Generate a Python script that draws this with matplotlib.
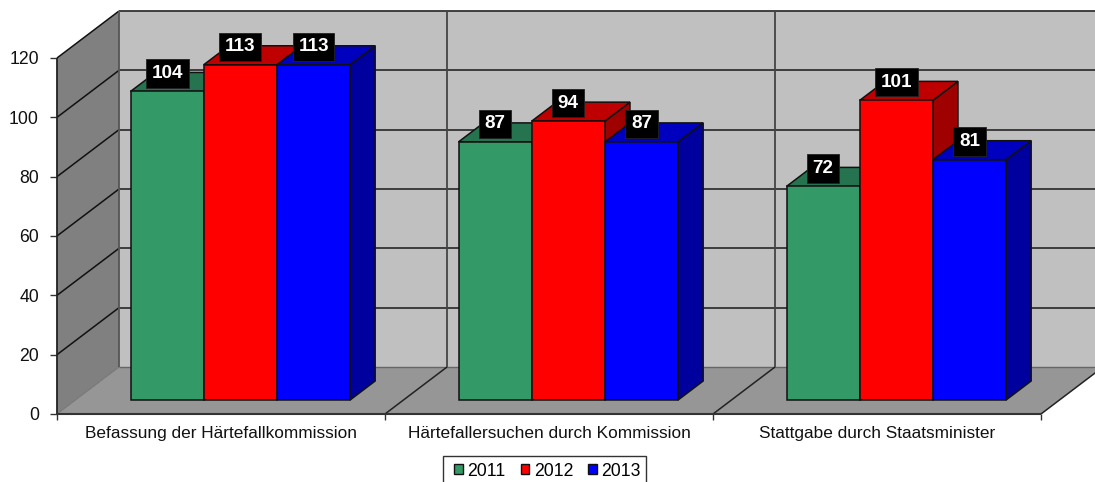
import matplotlib
matplotlib.use("Agg")
import matplotlib.pyplot as plt
from matplotlib.patches import Polygon, Rectangle
from matplotlib.lines import Line2D

plt.rcParams['font.family'] = ['Liberation Sans', 'DejaVu Sans']

categories = ["Befassung der Härtefallkommission", "Härtefallersuchen durch Kommission", "Stattgabe durch Staatsminister"]
years = ["2011", "2012", "2013"]
v2011 = [104, 87, 72]
v2012 = [113, 94, 101]
v2013 = [113, 87, 81]
series = [v2011, v2012, v2013]
front = ["#339966", "#FF0000", "#0000FF"]
top = ["#267350", "#BF0000", "#0000BF"]
side = ["#1F5F42", "#9F0000", "#00009F"]
yticks = [0, 20, 40, 60, 80, 100, 120]

W, H = 1095, 482
fig = plt.figure(figsize=(W / 100, H / 100), dpi=100, facecolor="white")
ax = fig.add_axes([57 / W, 1 - 414 / H, (1041 - 57) / W, (414 - 58) / H])
ax.set_xlim(0, 3)
ax.set_ylim(0, 120)
ax.patch.set_visible(False)
for s in ax.spines.values():
    s.set_visible(False)

PXX = 3 / (1041 - 57)
PXY = 120 / (414 - 58)
DX = 62 * PXX
DY = 47 * PXY


def P(x, y, d=0.0):
    return (x + d * DX, y + d * DY)


def poly(pts, fc, ec="none", lw=0, z=1):
    ax.add_patch(Polygon(pts, closed=True, facecolor=fc, edgecolor=ec, linewidth=lw,
                         zorder=z, clip_on=False, joinstyle="miter"))


def line(a, b, c="#222222", lw=1.1, z=2):
    ax.add_line(Line2D([a[0], b[0]], [a[1], b[1]], color=c, linewidth=lw, zorder=z,
                       clip_on=False, solid_capstyle="butt"))


ymax = yticks[-1]
# walls
poly([P(0, 0, 1), P(3, 0, 1), P(3, ymax, 1), P(0, ymax, 1)], "#C0C0C0", z=1)
poly([P(0, 0, 0), P(0, 0, 1), P(0, ymax, 1), P(0, ymax, 0)], "#808080", z=1)
poly([P(0, 0, 0), P(3, 0, 0), P(3, 0, 1), P(0, 0, 1)], "#969696", z=1)

# gridlines
for t in yticks[1:]:
    line(P(0, t, 0), P(0, t, 1), "#111111", 1.1)
    line(P(0, t, 1), P(3, t, 1), "#333333", 1.3)
line(P(0, 0, 1), P(3, 0, 1), "#666666", 1.0)
line(P(0, 0, 0), P(0, 0, 1), "#777777", 0.8)
line(P(0, 0, 1), P(0, ymax, 1), "#555555", 1.3)
line(P(0, 0, 0), P(0, ymax, 0), "#222222", 1.3, z=3)
line(P(0, 0, 0), P(3, 0, 0), "#333333", 1.5, z=3)
for c in (1, 2):
    line(P(c, 0, 0), P(c, 0, 1), "#222222", 1.1)
    line(P(c, 0, 1), P(c, ymax, 1), "#444444", 1.3)
line(P(3, 0, 0), P(3, 0, 1), "#222222", 1.1)

# bars
bw = 73.2 * PXX
d0 = 14 / 47
dd = 19 / 47
first = (130.5 - 57 - d0 * 62) * PXX
z = 5
for c in range(3):
    for i in range(3):
        v = series[i][c]
        x0 = c + first + i * bw
        x1 = x0 + bw
        kw = dict(ec="#111111", lw=1.1)
        poly([P(x1, 0, d0), P(x1, 0, d0 + dd), P(x1, v, d0 + dd), P(x1, v, d0)], side[i], z=z, **kw)
        poly([P(x0, v, d0), P(x1, v, d0), P(x1, v, d0 + dd), P(x0, v, d0 + dd)], top[i], z=z, **kw)
        poly([P(x0, 0, d0), P(x1, 0, d0), P(x1, v, d0), P(x0, v, d0)], front[i], z=z + 0.5, **kw)
        z += 1

# value labels
for c in range(3):
    for i in range(3):
        v = series[i][c]
        x0 = c + first + i * bw
        cx, cy = P(x0 + bw / 2, v, d0)
        ax.annotate(str(v), (cx, cy), xytext=(0, 13), textcoords="offset points",
                    ha="center", va="center", color="white", fontsize=13.6, fontweight="bold",
                    zorder=50, annotation_clip=False,
                    bbox=dict(boxstyle="square,pad=0.3", facecolor="black", edgecolor="#222222", linewidth=0.6))

# axes ticks and labels
ax.set_yticks(yticks)
ax.set_xticks([0, 1, 2, 3])
ax.set_xticklabels([])
ax.tick_params(axis="y", length=5, width=1.0, color="#333333", pad=8, labelsize=12.7, labelcolor="#111111")
ax.tick_params(axis="x", length=4, width=1.0, color="#333333")
for c, name in enumerate(categories):
    ax.annotate(name, (c + 0.5, 0), xytext=(0.3, -14), textcoords="offset points", ha="center", va="center",
                fontsize=12.4, color="#111111", annotation_clip=False)

# legend
fig.add_artist(Rectangle((443 / W, 1 - 492 / H), 203 / W, 36 / H, transform=fig.transFigure, facecolor="white",
                         edgecolor="#333333", linewidth=1.0))
handles = [Rectangle((0, 0), 1, 1, facecolor=front[i], edgecolor="#111111", linewidth=1.0) for i in range(3)]
leg = fig.legend(handles, years, loc="center", bbox_to_anchor=(547.5 / W, 1 - 471 / H), ncol=3, frameon=False,
                 fontsize=12.7, handlelength=0.5, handleheight=0.5, handletextpad=0.25, columnspacing=0.85,
                 borderpad=0.1, borderaxespad=0)

fig.savefig("out.png", dpi=100, facecolor="white")
